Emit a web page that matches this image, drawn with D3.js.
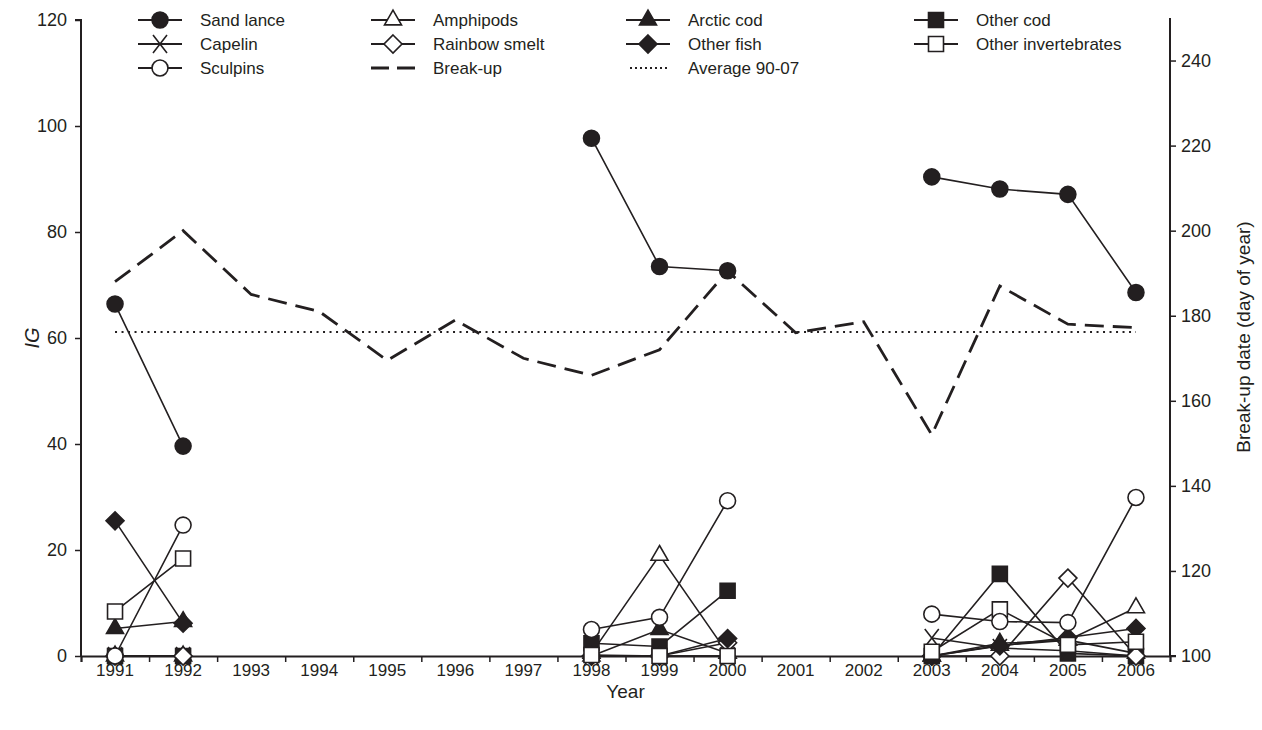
<!DOCTYPE html>
<html>
<head>
<meta charset="utf-8">
<script src="https://cdn.jsdelivr.net/npm/d3@7"></script>
<style>
  body { margin: 0; background: #fff; }
  svg text { font-family: "Liberation Sans", Arial, sans-serif; fill: #231f20; }
</style>
</head>
<body>
<div id="chart"></div>
<script>
// years shown on the x axis
var years = [1991, 1992, 1993, 1994, 1995, 1996, 1997, 1998, 1999, 2000, 2001, 2002, 2003, 2004, 2005, 2006];

// IG values per prey group (null = no sampling that year)
var sandLance    = [66.4, 39.6, null, null, null, null, null, 97.7, 73.5, 72.7, null, null, 90.4, 88.1, 87.1, 68.6];
var amphipods    = [0, 0, null, null, null, null, null, 0.5, 19.0, 0.5, null, null, 0, 2.0, 3.0, 9.1];
var arcticCod    = [5.2, 6.5, null, null, null, null, null, 0, 5.0, 0.5, null, null, 0, 2.4, 3.0, 0.5];
var otherCod     = [0, 0, null, null, null, null, null, 2.4, 1.8, 12.3, null, null, 0, 15.5, 0.5, 0];
var capelin      = [0, 0, null, null, null, null, null, 0, 0, 0, null, null, 3.4, 1.5, 1.0, 0];
var rainbowSmelt = [0, 0, null, null, null, null, null, 0, 0, 2.5, null, null, 0, 0, 14.7, 0];
var otherFish    = [25.5, 6.2, null, null, null, null, null, 0, 0, 3.3, null, null, 0, 1.9, 3.5, 5.2];
var otherInv     = [8.4, 18.4, null, null, null, null, null, 0.2, 0, 0, null, null, 0.8, 8.8, 2.1, 2.7];
var sculpins     = [0, 24.7, null, null, null, null, null, 5.0, 7.3, 29.3, null, null, 7.9, 6.5, 6.3, 29.9];

// ice break-up date (day of year) and the 1990-2007 average
var breakUp = [188, 200, 185, 181, 169.5, 179, 170, 166, 172, 190.5, 176, 178.6, 152, 187, 178, 177.2];
var breakUpAvg = 176.2;

var leftTicks = [0, 20, 40, 60, 80, 100, 120];
var rightTicks = [100, 120, 140, 160, 180, 200, 220, 240];

var series = [
  {name: "Sand lance", values: sandLance, shape: "circle", fill: true},
  {name: "Amphipods", values: amphipods, shape: "triangle", fill: false},
  {name: "Arctic cod", values: arcticCod, shape: "triangle", fill: true},
  {name: "Other cod", values: otherCod, shape: "square", fill: true},
  {name: "Capelin", values: capelin, shape: "x", fill: false},
  {name: "Rainbow smelt", values: rainbowSmelt, shape: "diamond", fill: false},
  {name: "Other fish", values: otherFish, shape: "diamond", fill: true},
  {name: "Other invertebrates", values: otherInv, shape: "square", fill: false},
  {name: "Sculpins", values: sculpins, shape: "circle", fill: false}
];

var W = 1262, H = 730;
var ink = "#231f20";
var m = {left: 81, right: 92, top: 18, bottom: 74};

var svg = d3.select("#chart").append("svg").attr("width", W).attr("height", H);

var x = d3.scaleLinear().domain([1990.5, 2006.5]).range([m.left, W - m.right]);
var yL = d3.scaleLinear().domain([0, 120]).range([H - m.bottom, 20]);
var yR = d3.scaleLinear().domain([100, 250]).range([H - m.bottom, m.top]);

function markerPath(shape) {
  if (shape === "circle") return d3.symbol(d3.symbolCircle, 200)();
  if (shape === "triangle") return d3.symbol(d3.symbolTriangle, 125)();
  if (shape === "square") return d3.symbol(d3.symbolSquare, 225)();
  if (shape === "diamond") return "M0,-9L9,0L0,9L-9,0Z";
  return "M-7,-9L7,9M7,-9L-7,9";
}

function drawMarker(g, s, cx, cy) {
  g.append("path")
    .attr("d", markerPath(s.shape))
    .attr("transform", "translate(" + cx + "," + cy + ")")
    .attr("fill", s.shape === "x" ? "none" : (s.fill ? ink : "#fff"))
    .attr("stroke", ink)
    .attr("stroke-width", 1.6);
}

// axes
var xAxis = svg.append("g").attr("transform", "translate(0," + (H - m.bottom) + ")")
  .call(d3.axisBottom(x).tickValues(d3.range(1990.5, 2007, 1)).tickSize(6).tickFormat(""));
svg.append("g").selectAll("text").data(years).enter().append("text")
  .attr("x", function(d) { return x(d); })
  .attr("y", H - m.bottom + 20)
  .attr("text-anchor", "middle")
  .style("font-size", "17px")
  .text(function(d) { return d; });

var leftAxis = svg.append("g").attr("transform", "translate(" + m.left + ",0)")
  .call(d3.axisLeft(yL).tickValues(leftTicks).tickSize(6).tickPadding(8));
var rightAxis = svg.append("g").attr("transform", "translate(" + (W - m.right) + ",0)")
  .call(d3.axisRight(yR).tickValues(rightTicks).tickSize(6).tickPadding(5));

[xAxis, leftAxis, rightAxis].forEach(function(a) {
  a.select(".domain").attr("stroke", ink).attr("stroke-width", 2);
  a.selectAll(".tick line").attr("stroke", ink).attr("stroke-width", 1.5);
  a.selectAll(".tick text").style("font-size", "18px").attr("fill", ink);
});
leftAxis.select(".domain").attr("d", "M-6," + yL(120) + "H0V" + yL(0));
rightAxis.select(".domain").attr("d", "M0," + yR(250) + "V" + yR(100) + "H6");

svg.append("text")
  .attr("transform", "translate(" + ((m.left + W - m.right) / 2) + "," + (H - 32) + ")")
  .attr("text-anchor", "middle").style("font-size", "19px").text("Year");
svg.append("text")
  .attr("transform", "translate(39," + yL(60) + ") rotate(-90)")
  .attr("text-anchor", "middle").style("font-size", "20px").style("font-style", "italic").text("IG");
svg.append("text")
  .attr("transform", "translate(1250," + yR(175) + ") rotate(-90)")
  .attr("text-anchor", "middle").style("font-size", "19px").text("Break-up date (day of year)");

// break-up lines
svg.append("line")
  .attr("x1", x(1991)).attr("x2", x(2006))
  .attr("y1", yR(breakUpAvg)).attr("y2", yR(breakUpAvg))
  .attr("stroke", ink).attr("stroke-width", 2).attr("stroke-dasharray", "2,4.5");

var breakLine = d3.line().x(function(d, i) { return x(years[i]); }).y(function(d) { return yR(d); });
svg.append("path").datum(breakUp)
  .attr("d", breakLine)
  .attr("fill", "none").attr("stroke", ink).attr("stroke-width", 2.8)
  .attr("stroke-dasharray", "19,9");

// prey series, later ones on top
var line = d3.line()
  .defined(function(d) { return d != null; })
  .x(function(d, i) { return x(years[i]); })
  .y(function(d) { return yL(d); });

series.forEach(function(s) {
  var g = svg.append("g");
  g.append("path").datum(s.values)
    .attr("d", line)
    .attr("fill", "none").attr("stroke", ink).attr("stroke-width", 1.6);
  s.values.forEach(function(v, i) {
    if (v != null) drawMarker(g, s, x(years[i]), yL(v));
  });
});

// legend
var legCols = [160, 393, 648, 936];
var legRows = [20, 44, 68];
var leg = svg.append("g");
series.forEach(function(s, i) {
  var cx = legCols[i % 4], cy = legRows[Math.floor(i / 4)];
  leg.append("line").attr("x1", cx - 22).attr("x2", cx + 22).attr("y1", cy).attr("y2", cy)
    .attr("stroke", ink).attr("stroke-width", 1.8);
  drawMarker(leg, s, cx, cy);
  leg.append("text").attr("x", cx + 40).attr("y", cy).attr("dy", "0.35em")
    .style("font-size", "17px").text(s.name);
});
leg.append("line").attr("x1", legCols[1] - 22).attr("x2", legCols[1] + 22)
  .attr("y1", legRows[2]).attr("y2", legRows[2])
  .attr("stroke", ink).attr("stroke-width", 2.8).attr("stroke-dasharray", "18,8");
leg.append("text").attr("x", legCols[1] + 40).attr("y", legRows[2]).attr("dy", "0.35em")
  .style("font-size", "17px").text("Break-up");
leg.append("line").attr("x1", legCols[2] - 18).attr("x2", legCols[2] + 20)
  .attr("y1", legRows[2]).attr("y2", legRows[2])
  .attr("stroke", ink).attr("stroke-width", 2).attr("stroke-dasharray", "2,3");
leg.append("text").attr("x", legCols[2] + 40).attr("y", legRows[2]).attr("dy", "0.35em")
  .style("font-size", "17px").text("Average 90-07");
</script>
</body>
</html>
